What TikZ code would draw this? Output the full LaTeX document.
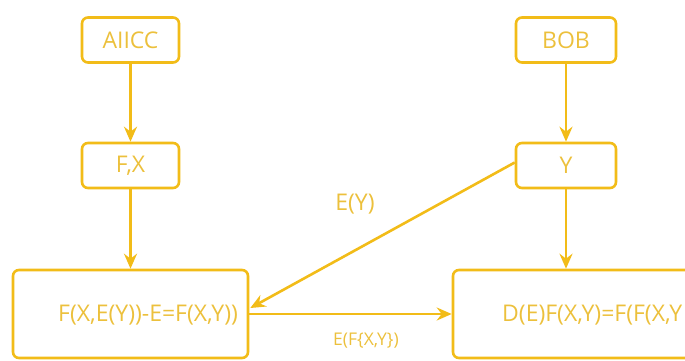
\documentclass[tikz,border=0pt]{standalone}
\usepackage{fontspec}
\setmainfont{Open Sans}
\usetikzlibrary{arrows.meta,calc}
\definecolor{gold}{RGB}{242,188,24}
\definecolor{goldtext}{RGB}{236,192,60}
\begin{document}
\begin{tikzpicture}[x=1pt,y=-1pt,
  box/.style={draw=gold,line width=2.6pt,rounded corners=6pt,inner sep=0pt},
  lbl/.style={text=goldtext,font=\fontsize{23}{26}\selectfont,inner sep=0pt},
  small/.style={text=goldtext,font=\fontsize{17.5}{20}\selectfont,inner sep=0pt},
  conn/.style={draw=gold,line width=2.6pt,-{Stealth[length=15pt,width=13pt,inset=5pt]}}]
\useasboundingbox (0,0) rectangle (685,360);
\clip (0,0) rectangle (685,360);
\node[box,minimum width=97pt,minimum height=45pt] (A) at (130.5,40) {};
\node[lbl] (At) at (A.center) {AIICC};
\node[box,minimum width=97pt,minimum height=45pt] (FX) at (130.5,165.5) {};
\node[lbl] (FXt) at (FX.center) {F,X};
\node[box,minimum width=100pt,minimum height=45pt] (B) at (566,40) {};
\node[lbl] (Bt) at (B.center) {BOB};
\node[box,minimum width=100pt,minimum height=45pt] (Y) at (566,165.5) {};
\node[lbl] (Yt) at (Y.center) {Y};
\node[box,minimum width=235pt,minimum height=88pt] (L) at (130.5,314) {};
\node[lbl,anchor=west] (Lt) at (58,315) {F(X,E(Y))-E=F(X,Y))};
\node[box,minimum width=247pt,minimum height=88pt] (R) at (576.5,314) {};
\node[lbl,anchor=west] (Rt) at (502,315) {D(E)F(X,Y)=F(F(X,Y};
\draw[conn] (A.south) -- (FX.north);
\draw[conn] (FX.south) -- (L.north);
\draw[conn] (B.south) -- (Y.north);
\draw[conn] (Y.south) -- (Y.south |- R.north);
\coordinate (ys) at ($(Y.west)+(0,-3)$);
\coordinate (le) at ($(L.east)+(1,-6)$);
\draw[conn] (ys) -- (le);
\draw[conn] (L.east) -- (R.west);
\node[lbl] (EY) at (355,204) {E(Y)};
\node[small] (EF) at (366,341) {E(F\{X,Y\})};
\end{tikzpicture}
\end{document}
